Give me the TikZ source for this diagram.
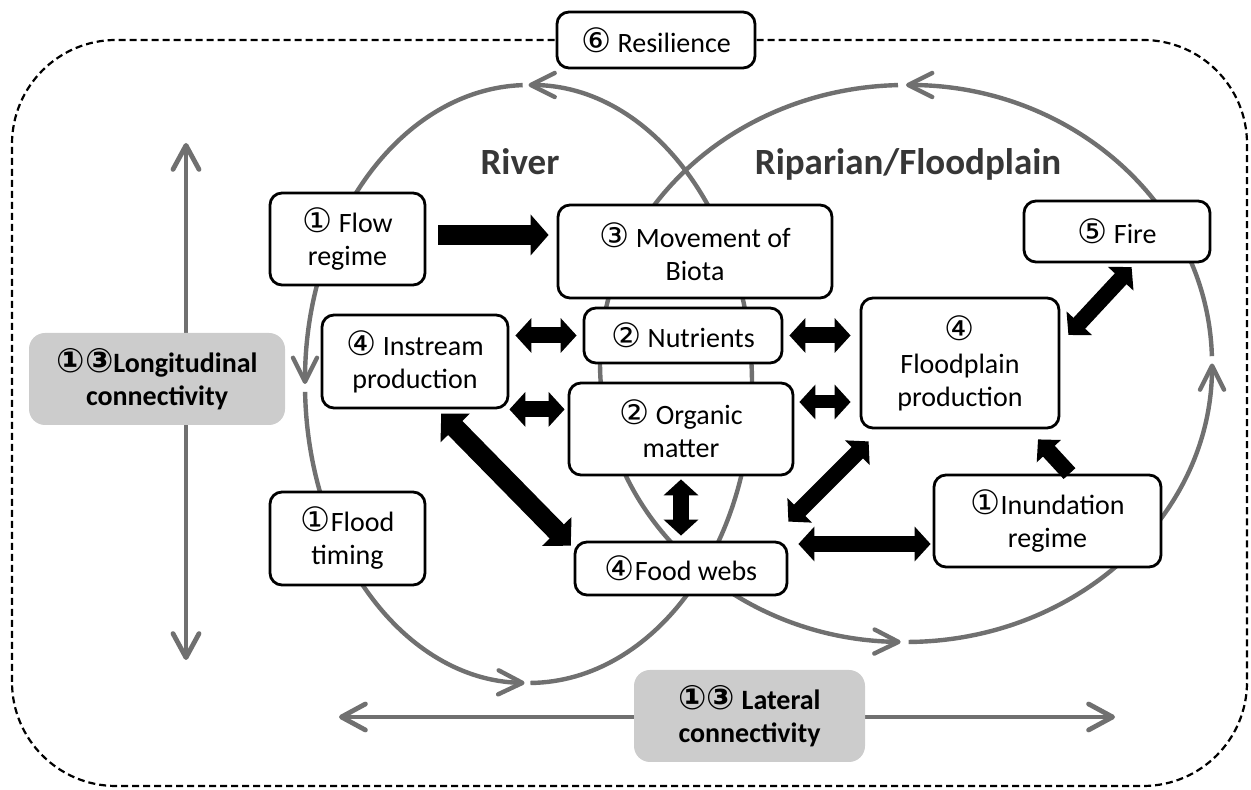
\documentclass[tikz,border=0pt]{standalone}
\usepackage{fontspec}
\setmainfont{Carlito}
\newfontfamily\cnfont[Scale=1.2]{DejaVu Sans}
\newcommand{\cn}[1]{{\cnfont #1}}
\usetikzlibrary{arrows.meta,positioning}
\definecolor{ringgray}{RGB}{112,112,112}
\definecolor{shadegray}{RGB}{204,204,204}
\definecolor{titlegray}{RGB}{55,55,55}

\begin{document}
\begin{tikzpicture}[x=0.5pt, y=0.5pt,
    procbox/.style={draw, line width=1.4pt, rounded corners=6pt, fill=white, align=center, inner sep=2pt, font=\fontsize{14}{16.5}\selectfont},
    shadebox/.style={fill=shadegray, rounded corners=8pt, align=center, inner sep=2pt, font=\bfseries\fontsize{14}{16.5}\selectfont},
    areatitle/.style={anchor=base, text=titlegray, font=\bfseries\fontsize{18.5}{22}\selectfont},
    ringline/.style={draw=ringgray, line width=2.2pt, -{Straight Barb[length=12pt,width=12pt,round]}},
    connarrow/.style={draw=ringgray, line width=2.4pt, {Straight Barb[length=12pt,width=13pt,round]}-{Straight Barb[length=12pt,width=13pt,round]}},
    bigoneway/.style={line width=10pt, -{Triangle[length=9pt,width=20pt]}},
    oneway/.style={line width=8pt, -{Triangle[length=8pt,width=16pt]}},
    bigtwoway/.style={line width=10pt, {Triangle[length=10pt,width=20pt]}-{Triangle[length=10pt,width=20pt]}},
    twoway/.style={line width=8pt, {Triangle[length=8pt,width=17pt]}-{Triangle[length=8pt,width=17pt]}}
]
    \useasboundingbox (0,0) rectangle (1251,790);

    \draw[line width=1.1pt, dash pattern=on 3.5pt off 2pt, rounded corners=52pt] (12,4) rectangle (1247,750);

    \coordinate (rc) at (528.5,406);
    \coordinate (fc) at (906,426.5);
    \foreach \a/\b in {-89.5/90, 91.5/180, 181.5/269}
        \draw[ringline] (rc) ++(\a:223.5 and 299) arc[start angle=\a, end angle=\b, x radius=223.5, y radius=299];
    \foreach \a/\b in {-89.5/0, 1.5/90, 91.5/269}
        \draw[ringline] (fc) ++(\a:306 and 278.5) arc[start angle=\a, end angle=\b, x radius=306, y radius=278.5];

    \coordinate (ltop) at (186,647);
    \coordinate (lbot) at (186,130);
    \coordinate (lleft) at (339,73);
    \coordinate (lright) at (1115,73);
    \draw[connarrow] (ltop) -- (lbot);
    \draw[connarrow] (lleft) -- (lright);

    \node[areatitle] (river) at (520,615) {River};
    \node[areatitle] (ripar) at (908,615) {Riparian/Floodplain};

    \node[procbox, minimum width=99pt, minimum height=28pt] (resil) at (656,750) {\cn{⑥} Resilience};
    \node[procbox, minimum width=77.5pt, minimum height=46pt] (flow) at (347.5,551) {\cn{①} Flow\\regime};
    \node[procbox, minimum width=137pt, minimum height=46.5pt] (move) at (695,538.5) {\cn{③} Movement of\\Biota};
    \node[procbox, minimum width=93pt, minimum height=30.5pt] (fire) at (1117,558.5) {\cn{⑤} Fire};
    \node[procbox, minimum width=99pt, minimum height=27.5pt] (nutr) at (683,454.5) {\cn{②} Nutrients};
    \node[procbox, minimum width=93pt, minimum height=46.5pt] (inst) at (415,428.5) {\cn{④} Instream\\production};
    \node[procbox, minimum width=99pt, minimum height=65pt] (flp) at (960,427) {\cn{④}\\Floodplain\\production};
    \node[procbox, minimum width=112pt, minimum height=46pt] (org) at (681,361) {\cn{②} Organic\\matter};
    \node[procbox, minimum width=77.5pt, minimum height=46.5pt] (timing) at (347.5,251.5) {\cn{①}Flood\\timing};
    \node[procbox, minimum width=106pt, minimum height=26.5pt] (food) at (681,221.5) {\cn{④}Food webs};
    \node[procbox, minimum width=113.5pt, minimum height=46pt] (inun) at (1047.5,269) {\cn{①}Inundation\\regime};
    \node[shadebox, minimum width=128pt, minimum height=46pt] (longi) at (157,411) {\cn{①}\cn{③}Longitudinal\\connectivity};
    \node[shadebox, minimum width=115.5pt, minimum height=46pt] (later) at (749.5,74) {\cn{①}\cn{③} Lateral\\connectivity};

    \draw[bigoneway, shorten <=6pt, shorten >=4pt] ([yshift=2pt]flow.east) -- ([yshift=2pt]flow.east -| move.west);
    \draw[twoway, shorten <=3pt, shorten >=3pt] (nutr.west -| inst.east) -- (nutr.west);
    \draw[twoway, shorten <=3pt, shorten >=4.5pt] (nutr.east) -- (nutr.east -| flp.west);
    \draw[twoway, shorten >=1.5pt] (inst.south east) -- (inst.south east -| org.west);
    \draw[twoway, line width=6.5pt, shorten <=2.5pt, shorten >=4.5pt] ([yshift=13.5pt]org.east) -- ([yshift=13.5pt]org.east -| flp.west);
    \draw[bigtwoway, shorten <=3pt, shorten >=2pt] ([xshift=11pt]inst.south) -- ([yshift=-4pt]food.north west);
    \draw[twoway, shorten <=1.5pt, shorten >=2.5pt] (org.south) -- (food.north);
    \draw[twoway] ([xshift=4.5pt,yshift=-6pt]flp.south west) -- ([yshift=9.5pt]food.north east);
    \draw[twoway, shorten <=5pt, shorten >=1pt] ([yshift=-11.5pt]inun.west -| food.east) -- ([yshift=-11.5pt]inun.west);
    \draw[oneway] ([xshift=11pt]inun.north) -- ([xshift=39pt,yshift=-5pt]flp.south);
    \draw[twoway, shorten <=2.5pt] ([xshift=9pt]fire.south) -- ([xshift=4pt,yshift=14pt]flp.east);
\end{tikzpicture}
\end{document}
